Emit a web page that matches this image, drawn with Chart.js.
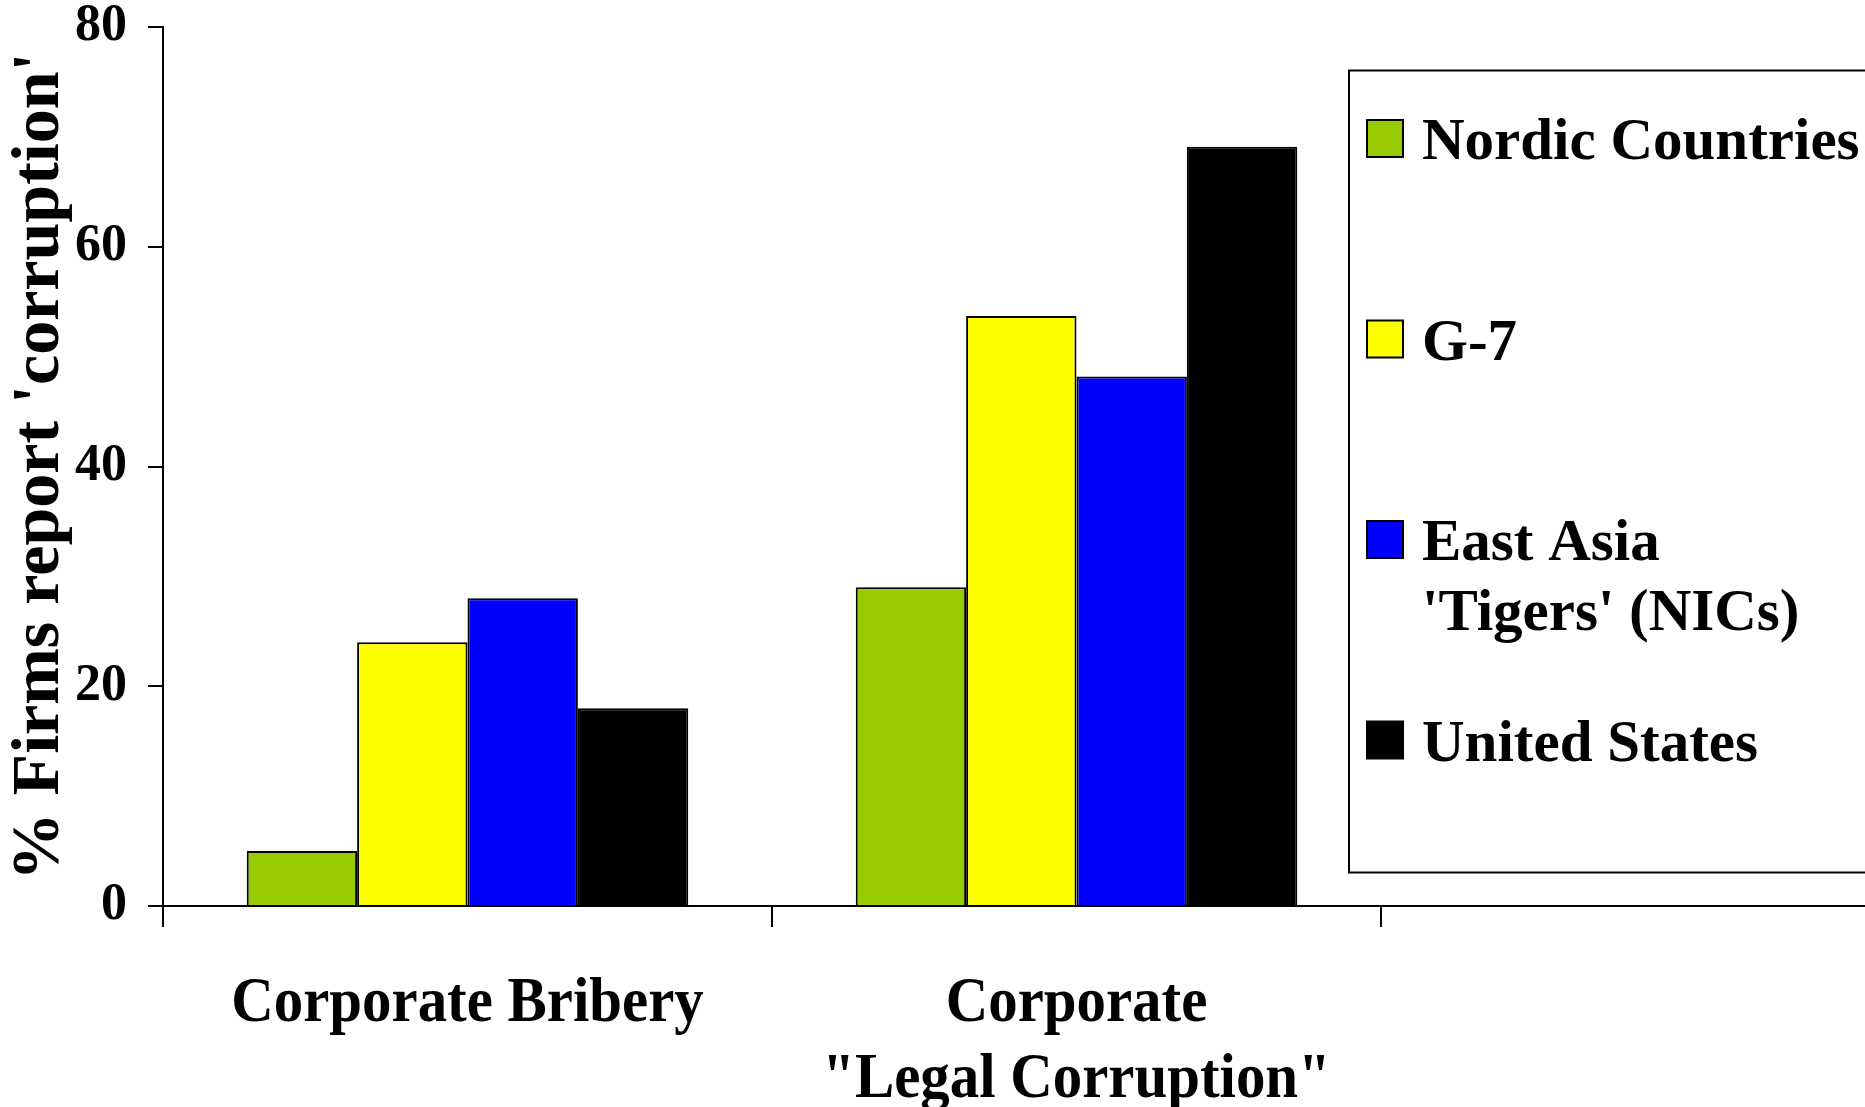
<!DOCTYPE html>
<html>
<head>
<meta charset="utf-8">
<script src="https://cdn.jsdelivr.net/npm/chart.js@4.4.1/dist/chart.umd.min.js"></script>
<style>
  html, body { margin: 0; padding: 0; background: #fff; overflow: hidden; }
  #wrap { position: relative; width: 2000px; height: 1107px; }
</style>
</head>
<body>
<div id="wrap"><canvas id="chart"></canvas></div>
<script>
const categories = ['Corporate Bribery', 'Corporate\n"Legal Corruption"', ''];
const seriesNames = ['Nordic Countries', 'G-7', "East Asia\n'Tigers' (NICs)", 'United States'];
const seriesColors = ['#99CC00', '#FFFF00', '#0000FF', '#000000'];
const nordic = [5, 29, null];
const g7 = [24, 53.7, null];
const eastAsia = [28, 48.2, null];
const unitedStates = [18, 69.1, null];
const yTicks = [0, 20, 40, 60, 80];

const serif = "'Liberation Serif', 'Times New Roman', serif";
Chart.defaults.font.family = serif;
Chart.defaults.color = '#000';

// category labels, squeezed a bit horizontally
const xLabels = {
  id: 'xLabels',
  afterDraw(chart) {
    const ctx = chart.ctx;
    const x = chart.scales.x;
    const base = chart.chartArea.bottom + 114.5;
    ctx.save();
    ctx.fillStyle = '#000';
    ctx.font = 'bold 64px ' + serif;
    ctx.textAlign = 'center';
    ctx.textBaseline = 'alphabetic';
    categories.forEach((cat, i) => {
      const px = x.getPixelForValue(i);
      cat.split('\n').forEach((line, j) => {
        ctx.save();
        ctx.translate(px, base + j * 76);
        ctx.scale(0.92, 1);
        ctx.fillText(line, 0, 0);
        ctx.restore();
      });
    });
    ctx.restore();
  }
};

// boxed legend sitting over the right of the plot
const boxLegend = {
  id: 'boxLegend',
  afterDraw(chart) {
    const ctx = chart.ctx;
    const left = 1349, top = 70.5, bottom = 872.5;
    ctx.save();
    ctx.fillStyle = '#fff';
    ctx.fillRect(left, top, 640, bottom - top);
    ctx.strokeStyle = '#000';
    ctx.lineWidth = 2;
    ctx.strokeRect(left, top, 640, bottom - top);

    ctx.font = 'bold 59px ' + serif;
    ctx.textAlign = 'left';
    ctx.textBaseline = 'alphabetic';
    chart.data.datasets.forEach((ds, i) => {
      const y = 159 + i * 200.5;
      ctx.fillStyle = ds.backgroundColor;
      ctx.fillRect(1367, y - 39, 36, 37);
      ctx.lineWidth = 2;
      ctx.strokeStyle = '#000';
      ctx.strokeRect(1367, y - 39, 36, 37);
      ctx.fillStyle = '#000';
      ds.label.split('\n').forEach((line, j) => {
        ctx.fillText(line, 1422, y + j * 70);
      });
    });
    ctx.restore();
  }
};

const allSeries = [nordic, g7, eastAsia, unitedStates];

new Chart(document.getElementById('chart'), {
  type: 'bar',
  data: {
    labels: categories,
    datasets: allSeries.map((vals, i) => ({
      label: seriesNames[i],
      data: vals,
      backgroundColor: seriesColors[i],
      borderColor: '#000',
      borderWidth: 2,
      borderSkipped: 'bottom',
      barPercentage: 1,
      categoryPercentage: 0.725
    }))
  },
  options: {
    responsive: true,
    maintainAspectRatio: false,
    animation: false,
    layout: { padding: { left: 0, top: 27, right: 10, bottom: 180 } },
    plugins: {
      legend: { display: false },
      tooltip: { enabled: false }
    },
    scales: {
      x: {
        ticks: { display: false },
        grid: { drawOnChartArea: false, drawTicks: true, tickLength: 21, color: '#000', lineWidth: 2 },
        border: { color: '#000', width: 2 }
      },
      y: {
        min: 0,
        max: 80,
        afterFit(scale) {
          // fixed axis width; let the top label run into the margin
          scale.width = 163;
          scale.paddingTop = 0;
          scale.paddingBottom = 0;
        },
        afterBuildTicks(scale) { scale.ticks = yTicks.map(v => ({ value: v })); },
        ticks: {
          font: { size: 52, weight: 'bold', lineHeight: 1 },
          padding: 21,
          color: '#000'
        },
        grid: { drawOnChartArea: false, drawTicks: true, tickLength: 15, color: '#000', lineWidth: 2 },
        border: { color: '#000', width: 2 },
        title: {
          display: true,
          text: "% Firms report 'corruption'",
          font: { size: 68, weight: 'bold', lineHeight: 1.2 },
          padding: { top: 0, bottom: 0 },
          color: '#000'
        }
      }
    }
  },
  plugins: [xLabels, boxLegend]
});
</script>
</body>
</html>
